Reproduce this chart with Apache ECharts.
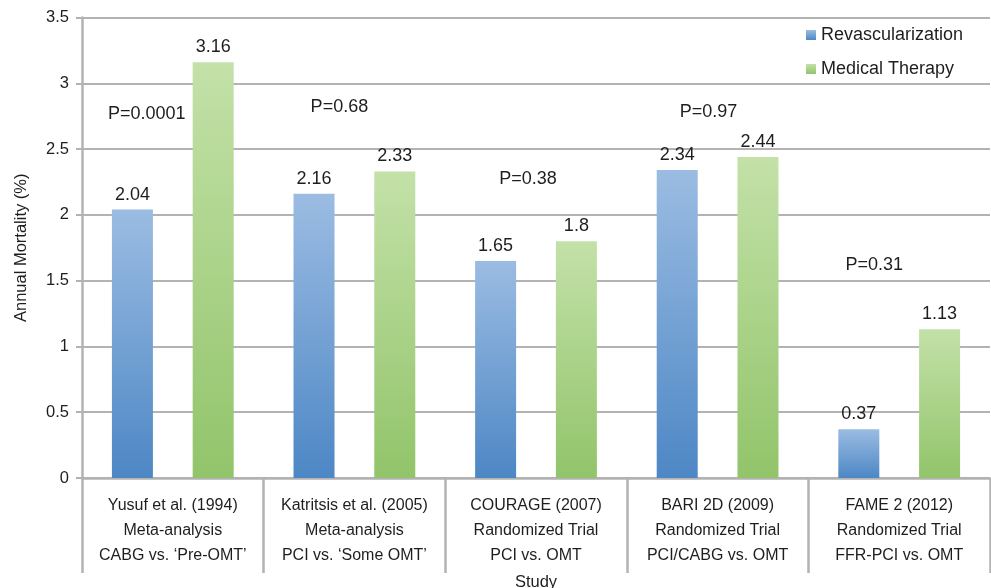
<!DOCTYPE html>
<html>
<head>
<meta charset="utf-8">
<script src="https://cdn.jsdelivr.net/npm/echarts@6/dist/echarts.min.js"></script>
<style>
  html, body { margin: 0; padding: 0; background: #fff; }
  #chart { width: 991px; height: 588px; }
</style>
</head>
<body>
<div id="chart"></div>
<script>
// Studies (three-line category labels)
const studies = [
  'Yusuf et al. (1994)\nMeta-analysis\nCABG vs. \u2018Pre-OMT\u2019',
  'Katritsis et al. (2005)\nMeta-analysis\nPCI vs. \u2018Some OMT\u2019',
  'COURAGE (2007)\nRandomized Trial\nPCI vs. OMT',
  'BARI 2D (2009)\nRandomized Trial\nPCI/CABG vs. OMT',
  'FAME 2 (2012)\nRandomized Trial\nFFR-PCI vs. OMT'
];
const seriesNames = ['Revascularization', 'Medical Therapy'];
const revascularization = [2.04, 2.16, 1.65, 2.34, 0.37];
const medicalTherapy = [3.16, 2.33, 1.8, 2.44, 1.13];
// P-value annotations and the height (in % units) at which each is written
const pValues = ['P=0.0001', 'P=0.68', 'P=0.38', 'P=0.97', 'P=0.31'];
const pHeights = [2.77, 2.82, 2.27, 2.78, 1.62];
const yTicks = [0, 0.5, 1, 1.5, 2, 2.5, 3, 3.5];

// horizontal nudge of each P label relative to its category centre
const pShift = [-26, -15, -8, -9, -25];

const FONT = '"Liberation Sans", Arial, Helvetica, sans-serif';
const gridColor = '#b3b3b3';
const ink = '#1e1e1e';

function grad(top, bottom) {
  return new echarts.graphic.LinearGradient(0, 0, 0, 1, [
    { offset: 0, color: top },
    { offset: 1, color: bottom }
  ]);
}

const valueLabel = {
  show: true,
  position: 'top',
  distance: 6,
  color: ink,
  fontFamily: FONT,
  fontSize: 18
};

const chart = echarts.init(document.getElementById('chart'), null, { renderer: 'canvas' });

chart.setOption({
  animation: false,
  backgroundColor: '#fff',
  textStyle: { fontFamily: FONT },
  grid: { left: 82, right: 1, top: 17.5, bottom: 110, containLabel: false, outerBoundsMode: 'none' },
  legend: {
    orient: 'vertical',
    left: 801,
    top: 21,
    icon: 'rect',
    itemWidth: 10,
    itemHeight: 10,
    itemGap: 16,
    data: seriesNames,
    textStyle: { fontFamily: FONT, fontSize: 18, color: ink, padding: [0, 0, 0, 0] }
  },
  xAxis: {
    type: 'category',
    data: studies,
    name: 'Study',
    nameLocation: 'middle',
    nameGap: 96,
    nameTextStyle: { fontFamily: FONT, fontSize: 16.5, color: ink },
    axisLine: { show: true, lineStyle: { color: gridColor, width: 2.5 } },
    axisTick: { show: true, length: 95, alignWithLabel: false, lineStyle: { color: gridColor, width: 2.5 } },
    axisLabel: {
      interval: 0,
      margin: 15,
      fontFamily: FONT,
      fontSize: 16,
      lineHeight: 25,
      color: ink
    },
    splitLine: { show: false }
  },
  yAxis: {
    type: 'value',
    min: yTicks[0],
    max: yTicks[yTicks.length - 1],
    interval: 0.5,
    name: 'Annual Mortality (%)',
    nameLocation: 'middle',
    nameGap: 52,
    nameRotate: 90,
    nameTextStyle: { fontFamily: FONT, fontSize: 16.5, color: ink },
    axisLine: { show: true, lineStyle: { color: gridColor, width: 2.5 } },
    axisTick: { show: true, length: 6, lineStyle: { color: gridColor, width: 2 } },
    axisLabel: {
      margin: 13,
      fontFamily: FONT,
      fontSize: 16.5,
      color: ink,
      formatter: v => String(v)
    },
    splitLine: { show: true, lineStyle: { color: gridColor, width: 2 } }
  },
  series: [
    {
      name: seriesNames[0],
      type: 'bar',
      data: revascularization,
      barWidth: 41,
      barGap: '97%',
      itemStyle: { color: grad('#9bbce2', '#4d87c5') },
      label: valueLabel
    },
    {
      name: seriesNames[1],
      type: 'bar',
      data: medicalTherapy,
      barWidth: 41,
      itemStyle: { color: grad('#c3e1a8', '#92c46a') },
      label: valueLabel
    },
    {
      name: 'p',
      type: 'scatter',
      symbolSize: 0,
      silent: true,
      z: 5,
      itemStyle: { opacity: 1 },
      emphasis: { disabled: true },
      data: pHeights.map((h, i) => ({
        value: [i, h],
        label: {
          show: true,
          position: 'inside',
          offset: [pShift[i], 0],
          formatter: pValues[i],
          color: ink,
          opacity: 1,
          fontFamily: FONT,
          fontSize: 18
        }
      }))
    }
  ]
});
</script>
</body>
</html>
